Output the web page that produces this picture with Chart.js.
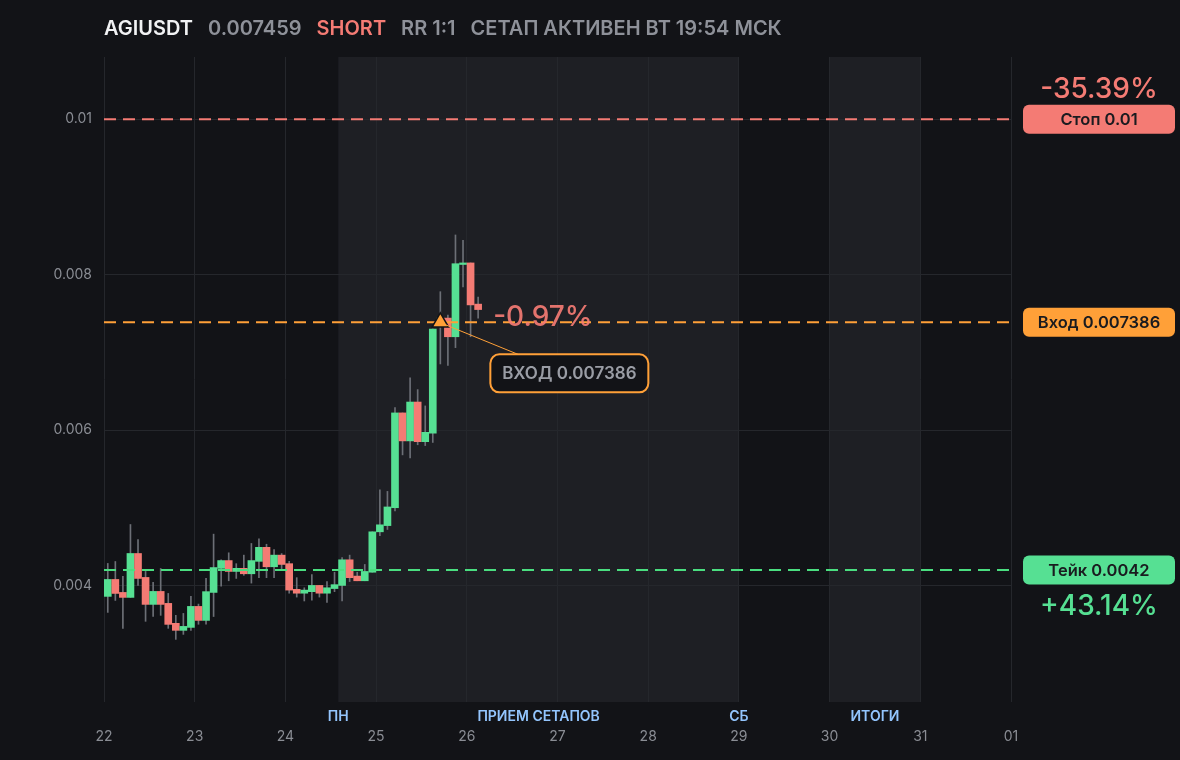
<!DOCTYPE html>
<html>
<head>
<meta charset="utf-8">
<script src="https://cdn.jsdelivr.net/npm/chart.js@4.4.1/dist/chart.umd.min.js"></script>
<style>
  body { margin: 0; background: #121317; }
  .wrap { position: relative; width: 1180px; height: 760px; }
  .title { position: absolute; left: 104px; top: 16px; font: 600 20px Inter, sans-serif; color: #8e9199; white-space: nowrap; }
  .title span { margin-right: 15px; }
  .title .sym { color: #f1f2f4; }
  .title .side { color: #f47b74; }
</style>
</head>
<body>
<div class="wrap">
  <div class="title">
    <span class="sym">AGIUSDT</span><span>0.007459</span><span class="side">SHORT</span><span>RR 1:1</span><span>СЕТАП АКТИВЕН ВТ 19:54 МСК</span>
  </div>
  <canvas id="chart" width="1180" height="760"></canvas>
</div>
<script>
// 2h candles starting 22nd 00:00
const opens  = [0.003859,0.004077,0.003910,0.003846,0.004411,0.004103,0.003756,0.003923,0.003769,0.003512,
                0.003422,0.003460,0.003730,0.003550,0.003910,0.004220,0.004320,0.004180,0.004220,0.004150,
                0.004310,0.004490,0.004240,0.004390,0.004280,0.003950,0.003900,0.003920,0.004000,0.003900,
                0.003960,0.004000,0.004330,0.004120,0.004060,0.004170,0.004690,0.004770,0.005000,0.006220,
                0.005860,0.006360,0.005850,0.005960,0.007350,0.007440,0.007200,0.008130,0.008150,0.007620];
const highs  = [0.004283,0.004308,0.004116,0.004784,0.004591,0.004180,0.004039,0.004218,0.003897,0.003615,
                0.003640,0.003860,0.003760,0.004090,0.004660,0.004330,0.004420,0.004280,0.004390,0.004540,
                0.004600,0.004530,0.004460,0.004410,0.004310,0.004100,0.003970,0.004140,0.004000,0.004050,
                0.004170,0.004360,0.004390,0.004170,0.004270,0.004690,0.005230,0.005210,0.006290,0.006220,
                0.006670,0.006520,0.006310,0.007300,0.007780,0.007480,0.008510,0.008440,0.008150,0.007710];
const lows   = [0.003653,0.003807,0.003448,0.003846,0.004000,0.003538,0.003602,0.003615,0.003448,0.003306,
                0.003370,0.003420,0.003500,0.003500,0.003600,0.003990,0.004060,0.004090,0.004130,0.004030,
                0.004100,0.004100,0.004100,0.004190,0.003900,0.003850,0.003800,0.003810,0.003850,0.003780,
                0.003920,0.003800,0.004050,0.004060,0.004060,0.004170,0.004640,0.004720,0.004960,0.005680,
                0.005640,0.005810,0.005800,0.005840,0.006850,0.006830,0.007060,0.007840,0.007200,0.007440];
const closes = [0.004077,0.003897,0.003846,0.004411,0.004090,0.003756,0.003923,0.003756,0.003499,0.003422,
                0.003473,0.003730,0.003550,0.003920,0.004230,0.004320,0.004180,0.004220,0.004150,0.004320,
                0.004490,0.004240,0.004390,0.004270,0.003940,0.003900,0.003940,0.004000,0.003900,0.003970,
                0.004010,0.004330,0.004100,0.004060,0.004180,0.004690,0.004780,0.005010,0.006220,0.005860,
                0.006360,0.005850,0.005970,0.007300,0.007440,0.007200,0.008140,0.008150,0.007610,0.007550];

const dayLabels = ['22','23','24','25','26','27','28','29','30','31','01'];
const yTicks = [0.004, 0.006, 0.008, 0.01];

const stopLevel = 0.01, entryLevel = 0.007386, takeLevel = 0.0042;
const entryCandle = 44;
// shaded zones in hours from the 22nd
const zones = [
  { from: 62, to: 168, label: 'ПРИЕМ СЕТАПОВ', startLabel: 'ПН', endLabel: 'СБ' },
  { from: 192, to: 216, label: 'ИТОГИ' }
];

const GREEN = '#56e093', RED = '#f47b74', ORANGE = '#ffa038', WICK = '#6c6f76';
const candleHours = opens.map((_, i) => 1 + i * 2);
const lastHour = (dayLabels.length - 1) * 24;

const wickData = candleHours.map((h, i) => ({ x: h, y: [lows[i], highs[i]] }));
const bodyData = candleHours.map((h, i) => ({ x: h, y: [Math.min(opens[i], closes[i]), Math.max(opens[i], closes[i])] }));
const bodyColors = opens.map((o, i) => closes[i] >= o ? GREEN : RED);

function level(y, color) {
  return {
    type: 'line', data: [{ x: 0, y: y }, { x: lastHour, y: y }],
    borderColor: color, borderWidth: 2, borderDash: [12, 7], pointRadius: 0, order: 0
  };
}

function roundBox(ctx, x, y, w, h, r) {
  ctx.beginPath();
  ctx.roundRect(x, y, w, h, r);
}

const decor = {
  id: 'decor',
  beforeDraw(chart) {
    const { ctx, chartArea: a, scales: { x } } = chart;
    ctx.save();
    ctx.fillStyle = '#1e1f24';
    zones.forEach(z => {
      const x0 = x.getPixelForValue(z.from), x1 = x.getPixelForValue(z.to);
      ctx.fillRect(x0, a.top, x1 - x0, a.bottom - a.top);
    });
    ctx.restore();
  },
  afterDraw(chart) {
    const { ctx, chartArea: a, scales: { x, y } } = chart;
    ctx.save();
    // zone captions
    ctx.font = '600 14px Inter';
    ctx.fillStyle = '#93c5fd';
    ctx.textAlign = 'center';
    ctx.textBaseline = 'middle';
    const capY = a.bottom + 15;
    zones.forEach(z => {
      const x0 = x.getPixelForValue(z.from), x1 = x.getPixelForValue(z.to);
      ctx.fillText(z.label, (x0 + x1) / 2, capY);
      if (z.startLabel) ctx.fillText(z.startLabel, x0, capY);
      if (z.endLabel) ctx.fillText(z.endLabel, x1, capY);
    });

    // right side level tags
    const bx = a.right + 12, bw = 152, bh = 29;
    const tags = [
      { v: stopLevel, text: 'Стоп 0.01', color: RED, pct: '-35.39%', dy: -30 },
      { v: entryLevel, text: 'Вход 0.007386', color: ORANGE },
      { v: takeLevel, text: 'Тейк 0.0042', color: GREEN, pct: '+43.14%', dy: 37 }
    ];
    tags.forEach(t => {
      const py = y.getPixelForValue(t.v);
      ctx.fillStyle = t.color;
      roundBox(ctx, bx, py - bh / 2, bw, bh, 6);
      ctx.fill();
      ctx.fillStyle = '#1a1b1f';
      ctx.font = '600 16.5px Inter';
      ctx.fillText(t.text, bx + bw / 2, py + 1);
      if (t.pct) {
        ctx.fillStyle = t.color;
        ctx.font = '500 28px Inter';
        ctx.fillText(t.pct, bx + bw / 2, py + t.dy);
      }
    });

    // entry callout
    const tx = x.getPixelForValue(candleHours[entryCandle]);
    const ty = y.getPixelForValue(entryLevel);
    ctx.strokeStyle = ORANGE;
    ctx.lineWidth = 1;
    ctx.beginPath();
    ctx.moveTo(tx + 4, ty + 2);
    ctx.lineTo(tx + 80, ty + 33);
    ctx.stroke();
    const cx = tx + 50, cy = ty + 32, cw = 158, ch = 38;
    ctx.fillStyle = '#121317';
    ctx.lineWidth = 2;
    roundBox(ctx, cx, cy, cw, ch, 9);
    ctx.fill();
    ctx.stroke();
    ctx.fillStyle = '#9a9da5';
    ctx.font = '600 17px Inter';
    ctx.fillText('ВХОД 0.007386', cx + cw / 2, cy + ch / 2 + 1);

    // current pnl next to the last candle
    const lx = x.getPixelForValue(candleHours[candleHours.length - 1]);
    ctx.fillStyle = 'rgba(244,123,116,0.92)';
    ctx.font = '500 28px Inter';
    ctx.textAlign = 'left';
    ctx.fillText('-0.97%', lx + 15, ty - 5);
    ctx.restore();
  }
};

new Chart(document.getElementById('chart'), {
  type: 'bar',
  data: {
    datasets: [
      level(stopLevel, RED),
      level(entryLevel, ORANGE),
      level(takeLevel, '#4ade80'),
      {
        type: 'line', data: [{ x: candleHours[entryCandle], y: entryLevel }], showLine: false,
        pointStyle: 'triangle', pointRadius: 9.5, backgroundColor: ORANGE,
        borderColor: '#121317', borderWidth: 1.5, order: -1
      },
      { data: bodyData, backgroundColor: bodyColors, barThickness: 7, minBarLength: 1, grouped: false, order: 2 },
      { data: wickData, backgroundColor: WICK, barThickness: 1, grouped: false, order: 3 }
    ]
  },
  options: {
    responsive: false,
    animation: false,
    layout: { padding: { top: 57, right: 169, left: 0, bottom: 0 } },
    plugins: { legend: { display: false }, tooltip: { enabled: false } },
    scales: {
      x: {
        type: 'linear', min: 0, max: lastHour, offset: false,
        afterBuildTicks: s => { s.ticks = dayLabels.map((_, i) => ({ value: i * 24 })); },
        afterFit: s => { s.height = 58; },
        ticks: {
          color: '#8a8d94', font: { family: 'Inter', size: 14 }, padding: 26, maxRotation: 0, autoSkip: false,
          callback: v => dayLabels[Math.round(v / 24)]
        },
        grid: { color: '#25272c', drawTicks: false, offset: false },
        border: { display: false }
      },
      y: {
        min: 0.0025, max: 0.0108,
        afterBuildTicks: s => { s.ticks = yTicks.map(v => ({ value: v })); },
        afterFit: s => { s.width = 104; },
        ticks: {
          color: '#8a8d94', font: { family: 'Inter', size: 14 }, padding: 12,
          callback: v => String(+v.toFixed(6))
        },
        grid: { color: '#25272c', drawTicks: false },
        border: { display: false }
      }
    }
  },
  plugins: [decor]
});
</script>
</body>
</html>
